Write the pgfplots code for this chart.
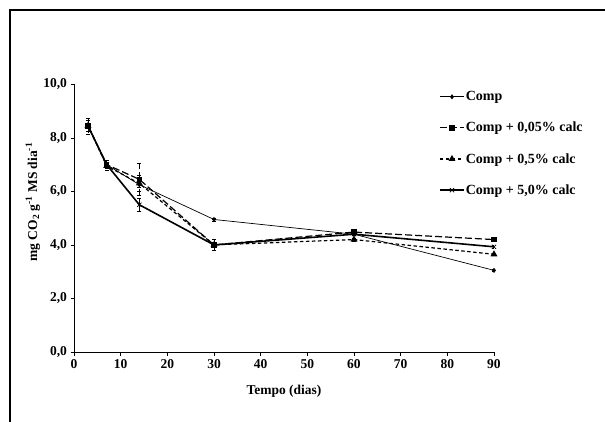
\documentclass[border=0pt]{standalone}
\usepackage{pgfplots}
\pgfplotsset{compat=1.18}
\usepackage{fontspec}
\setmainfont{Liberation Serif}
\begin{document}
\begin{tikzpicture}
\begin{axis}[
  scale only axis,
  width=420pt, height=267.7pt,
  at={(74pt,69pt)}, anchor=south west,
  xmin=0, xmax=90, ymin=0, ymax=10,
  xtick={0,10,...,90}, ytick={0,2,...,10},
  axis x line*=bottom, axis y line*=left,
  axis line style={-, line width=0.9pt},
  tick style={black, line width=0.6pt},
  tick align=outside, major tick length=3.5pt,
  ticklabel style={font=\fontsize{13.5}{15}\selectfont\bfseries},
  /pgf/number format/assume math mode=true,
  yticklabel={\pgfmathprintnumber[fixed,fixed zerofill,precision=1,use comma]{\tick}},
  xticklabel={\pgfmathprintnumber[fixed,precision=0]{\tick}},
  xlabel={Tempo (dias)},
  ylabel={mg CO\textsubscript{2} g\textsuperscript{-1} MS dia\textsuperscript{-1}},
  label style={font=\fontsize{13.5}{15}\selectfont\bfseries},
  xlabel style={at={(axis description cs:0.5,-0.147)}, anchor=center},
  ylabel style={at={(axis description cs:-0.098,0.56)}, anchor=center},
  legend style={draw=none, fill=none, at={(rel axis cs:0.869,0.978)}, anchor=north west,
    font=\fontsize{14}{16}\selectfont\bfseries, row sep=18pt,
    legend cell align=left, inner sep=0pt,
    nodes={inner sep=1pt}},
  legend image code/.code={\draw[mark repeat=2,mark phase=2,#1] plot coordinates {(0pt,0pt) (12pt,0pt) (24pt,0pt)};},
  error bars/y dir=both, error bars/y explicit,
  error bars/error mark options={rotate=90, mark size=2pt, line width=0.5pt},
  error bars/error bar style={line width=0.5pt},
]
\addplot[black, line width=0.7pt, mark=diamond*, mark size=2pt] coordinates {
 (3,8.45) +- (0,0.1) (7,7.0) +- (0,0.1) (14,6.25) +- (0,0.1) (30,4.95) +- (0,0.05) (60,4.4) +- (0,0.05) (90,3.05) +- (0,0.05)};
\addlegendentry{Comp}
\addplot[black, line width=1.2pt, dash pattern=on 7pt off 3pt, mark=square*, mark size=2.2pt, mark options={solid}] coordinates {
 (3,8.45) +- (0,0.3) (7,7.0) +- (0,0.15) (14,6.45) +- (0,0.6) (30,4.0) +- (0,0.2) (60,4.48) +- (0,0.05) (90,4.2) +- (0,0.05)};
\addlegendentry{Comp + 0,05\% calc}
\addplot[black, line width=1.2pt, dash pattern=on 3.5pt off 2.5pt, mark=triangle*, mark size=2.8pt, mark options={solid}] coordinates {
 (3,8.45) +- (0,0.2) (7,6.95) +- (0,0.15) (14,6.3) +- (0,0.3) (30,4.0) +- (0,0.2) (60,4.2) +- (0,0.05) (90,3.65) +- (0,0.05)};
\addlegendentry{Comp + 0,5\% calc}
\addplot[black, line width=1.6pt, mark=x, mark size=3pt, mark options={line width=0.7pt}] coordinates {
 (3,8.45) +- (0,0.2) (7,7.0) +- (0,0.15) (14,5.5) +- (0,0.25) (30,4.0) +- (0,0.2) (60,4.4) +- (0,0.05) (90,3.93) +- (0,0.05)};
\addlegendentry{Comp + 5,0\% calc}
\end{axis}
\draw[line width=1.5pt] (10pt,-30pt) -- (10pt,411pt) -- (640pt,411pt);
\pgfresetboundingbox
\useasboundingbox (0,0) rectangle (605pt,421pt);
\end{tikzpicture}
\end{document}
